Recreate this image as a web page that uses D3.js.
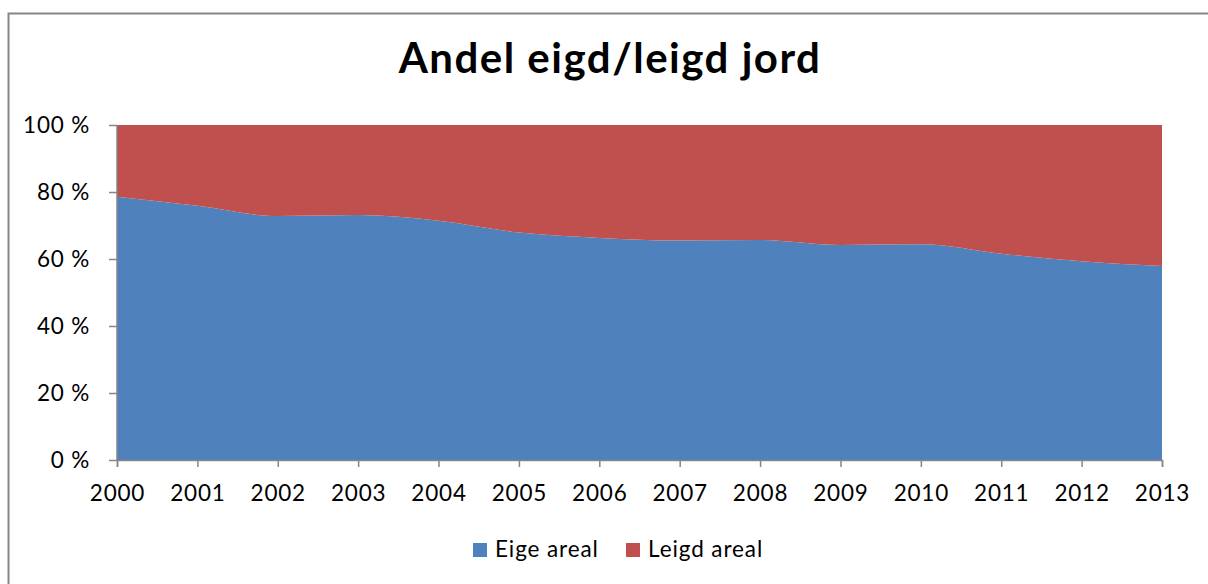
<!DOCTYPE html>
<html><head><meta charset="utf-8">
<script src="https://cdn.jsdelivr.net/npm/d3@7"></script>
<style>body{margin:0;background:#fff}svg{display:block}</style>
</head><body>
<script>
const years = ["2000","2001","2002","2003","2004","2005","2006","2007","2008","2009","2010","2011","2012","2013"];
const eigeAreal = [78.6, 75.9, 72.8, 73.1, 71.4, 67.9, 66.3, 65.5, 65.7, 64.2, 64.4, 61.6, 59.3, 57.9];
const leigdAreal = eigeAreal.map(v => 100 - v);
const yTicks = [0, 20, 40, 60, 80, 100];
const seriesNames = ["Eige areal", "Leigd areal"];
const colors = ["#4F81BD", "#C0504D"];
const title = "Andel eigd/leigd jord";

const W = 1208, H = 584;
const svg = d3.select("body").append("svg").attr("width", W).attr("height", H);
const font = "Lato, 'Open Sans', sans-serif";

svg.append("rect").attr("x", 8.5).attr("y", 13.5).attr("width", W + 10).attr("height", H + 10)
  .attr("fill", "#fff").attr("stroke", "#868686").attr("stroke-width", 2);

svg.append("text").attr("x", 610).attr("y", 73).attr("text-anchor", "middle")
  .attr("font-family", font).attr("font-weight", "bold").attr("font-size", 42)
  .attr("letter-spacing", 1.5).attr("fill", "#000")
  .text(title);

const x = d3.scalePoint().domain(years).range([117, 1162]);
const y = d3.scaleLinear().domain([0, 100]).range([460, 125]);

const rows = years.map((yr, i) => ({year: yr, e: eigeAreal[i], l: leigdAreal[i]}));
const stack = d3.stack().keys(["e", "l"])(rows);
const area = d3.area().x(d => x(d.data.year)).y0(d => y(d[0])).y1(d => y(d[1])).curve(d3.curveMonotoneX);
svg.selectAll("path.a").data(stack).join("path").attr("class", "a")
  .attr("d", area).attr("fill", (d, i) => colors[i]);

const gy = svg.append("g").attr("transform", "translate(117,0)")
  .call(d3.axisLeft(y).tickValues(yTicks).tickSize(8).tickPadding(19).tickFormat(d => d + " %"));
const gx = svg.append("g").attr("transform", "translate(0,460)")
  .call(d3.axisBottom(x).tickSize(7).tickPadding(18));
[gx, gy].forEach(g => {
  g.selectAll("path,line").attr("stroke", "#868686").attr("stroke-width", 1.5);
  g.selectAll("text").attr("font-family", font).attr("font-size", 22.5).attr("letter-spacing", 0.8).attr("fill", "#000");
});
gy.select(".domain").attr("d", "M0,460V125");

const leg = svg.append("g");
const lx = [473, 626];
seriesNames.forEach((n, i) => {
  leg.append("rect").attr("x", lx[i]).attr("y", 543).attr("width", 14).attr("height", 14).attr("fill", colors[i]);
  leg.append("text").attr("x", lx[i] + 22).attr("y", 557).attr("font-family", font).attr("font-size", 22.5)
    .attr("letter-spacing", 0.9).attr("fill", "#000").text(n);
});
</script>
</body></html>
